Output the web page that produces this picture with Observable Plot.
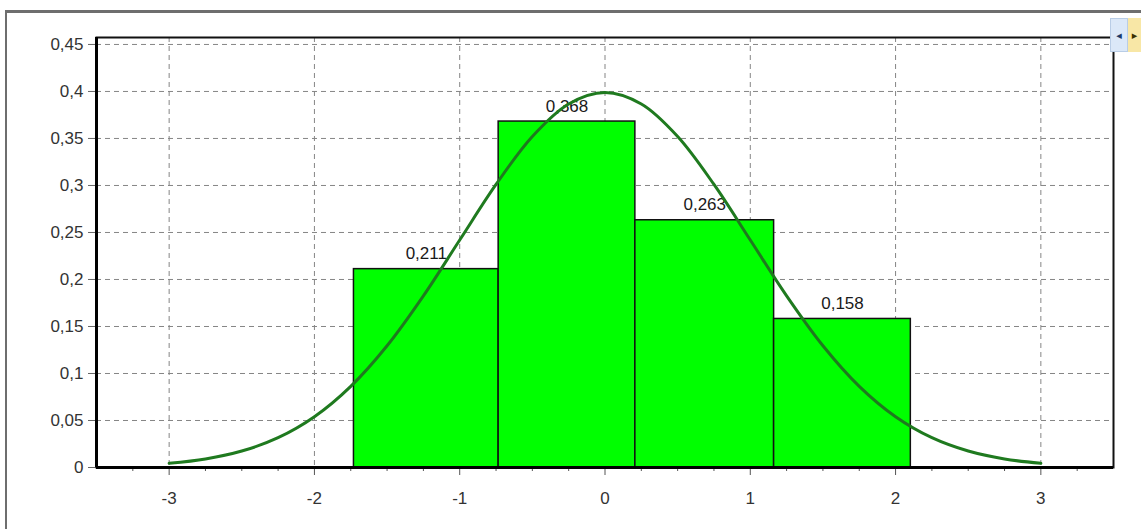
<!DOCTYPE html>
<html>
<head>
<meta charset="utf-8">
<script src="https://cdn.jsdelivr.net/npm/d3@7"></script>
<script src="https://cdn.jsdelivr.net/npm/@observablehq/plot@0.6"></script>
<style>
  html, body { margin: 0; padding: 0; background: #fff; }
  #wrap { position: relative; width: 1141px; height: 529px; overflow: hidden; background: #fff; }
  #chart { position: absolute; left: 0; top: 0; }
  .topline { position: absolute; left: 5px; top: 10px; width: 1136px; height: 3px; background: #6e6e6e; }
  .leftline { position: absolute; left: 5px; top: 10px; width: 2px; height: 519px; background: #6e6e6e; }
  .nav { position: absolute; top: 18px; height: 34px; font: 11px "DejaVu Sans", sans-serif; color: #1a3a6a;
         display: flex; align-items: center; justify-content: center; }
  #navL { left: 1110px; width: 18px; background: #dbe8f8; border: 1px solid #b9cde6; box-sizing: border-box; }
  #navR { left: 1128px; width: 13px; background: #f8e7a6; color: #3a3000; }
</style>
</head>
<body>
<div id="wrap">
  <div id="chart"></div>
  <div class="topline"></div>
  <div class="leftline"></div>
  <div class="nav" id="navL">◂</div>
  <div class="nav" id="navR">▸</div>
</div>
<script>
// Histogram bins (relative frequencies)
const binStart = [-1.728, -0.732, 0.209, 1.164];
const binEnd   = [-0.732, 0.209, 1.164, 2.105];
const binValue = [0.211, 0.368, 0.263, 0.158];

// Fitted curve points
const curveX = [-3, -2.75, -2.5, -2.25, -2, -1.75, -1.5, -1.25, -1, -0.75, -0.5, -0.25, 0,
                0.25, 0.5, 0.75, 1, 1.25, 1.5, 1.75, 2, 2.25, 2.5, 2.75, 3];
const curveY = [0.0044, 0.0091, 0.0175, 0.0317, 0.054, 0.0863, 0.1295, 0.1826, 0.242, 0.3011, 0.3521, 0.3867, 0.3989,
                0.3867, 0.3521, 0.3011, 0.242, 0.1826, 0.1295, 0.0863, 0.054, 0.0317, 0.0175, 0.0091, 0.0044];

// Axis ticks
const yTicks = [0, 0.05, 0.1, 0.15, 0.2, 0.25, 0.3, 0.35, 0.4, 0.45];
const yTickLabels = ["0", "0,05", "0,1", "0,15", "0,2", "0,25", "0,3", "0,35", "0,4", "0,45"];
const xTicks = [-3, -2, -1, 0, 1, 2, 3];
const xMinorTicks = [-3.25, -2.75, -2.5, -2.25, -1.75, -1.5, -1.25, -0.75, -0.5, -0.25,
                     0.25, 0.5, 0.75, 1.25, 1.5, 1.75, 2.25, 2.5, 2.75, 3.25];

const bins = binStart.map((s, i) => ({x1: s, x2: binEnd[i], v: binValue[i], mid: (s + binEnd[i]) / 2,
  label: String(binValue[i]).replace(".", ",")}));
const curve = curveX.map((x, i) => ({x, y: curveY[i]}));

const font = `"Liberation Sans", Arial, sans-serif`;

const chart = Plot.plot({
  width: 1141,
  height: 529,
  marginLeft: 96,
  marginRight: 28,
  marginTop: 37,
  marginBottom: 62,
  style: {fontFamily: font, fontSize: "17px", background: "transparent", color: "#333"},
  x: {domain: [-3.5, 3.5]},
  y: {domain: [0, 0.4574]},
  marks: [
    Plot.gridY(yTicks.slice(1), {stroke: "#858585", strokeOpacity: 1, strokeWidth: 1, strokeDasharray: "5,4"}),
    Plot.gridX(xTicks, {stroke: "#858585", strokeOpacity: 1, strokeWidth: 1, strokeDasharray: "5,4"}),
    Plot.rect(bins, {x1: "x1", x2: "x2", y1: 0, y2: "v", fill: "#00ff00", stroke: "#111", strokeWidth: 1.5}),
    Plot.text(bins, {x: "mid", y: "v", text: "label", dy: -10, lineAnchor: "bottom", fill: "#1a1a1a", fontSize: 17}),
    Plot.line(curve, {x: "x", y: "y", stroke: "#1f7a1f", strokeWidth: 3, curve: "catmull-rom"}),
    Plot.axisY(yTicks, {tickSize: 8, tickPadding: 5, stroke: "#666", tickFormat: (d, i) => yTickLabels[i], label: null, fill: "#333", fontSize: 17}),
    Plot.axisX(xTicks, {tickSize: 8, tickPadding: 16, stroke: "#555", tickFormat: d => String(d), label: null, fill: "#333", fontSize: 17}),
    Plot.axisX(xMinorTicks, {tickSize: 4, tickFormat: () => "", stroke: "#555", label: null}),
    Plot.frame({stroke: "#111", strokeWidth: 2}),
    Plot.ruleY([0], {stroke: "#000", strokeWidth: 3}),
    Plot.ruleX([-3.5], {stroke: "#000", strokeWidth: 3})
  ]
});
document.getElementById("chart").appendChild(chart);
</script>
</body>
</html>
